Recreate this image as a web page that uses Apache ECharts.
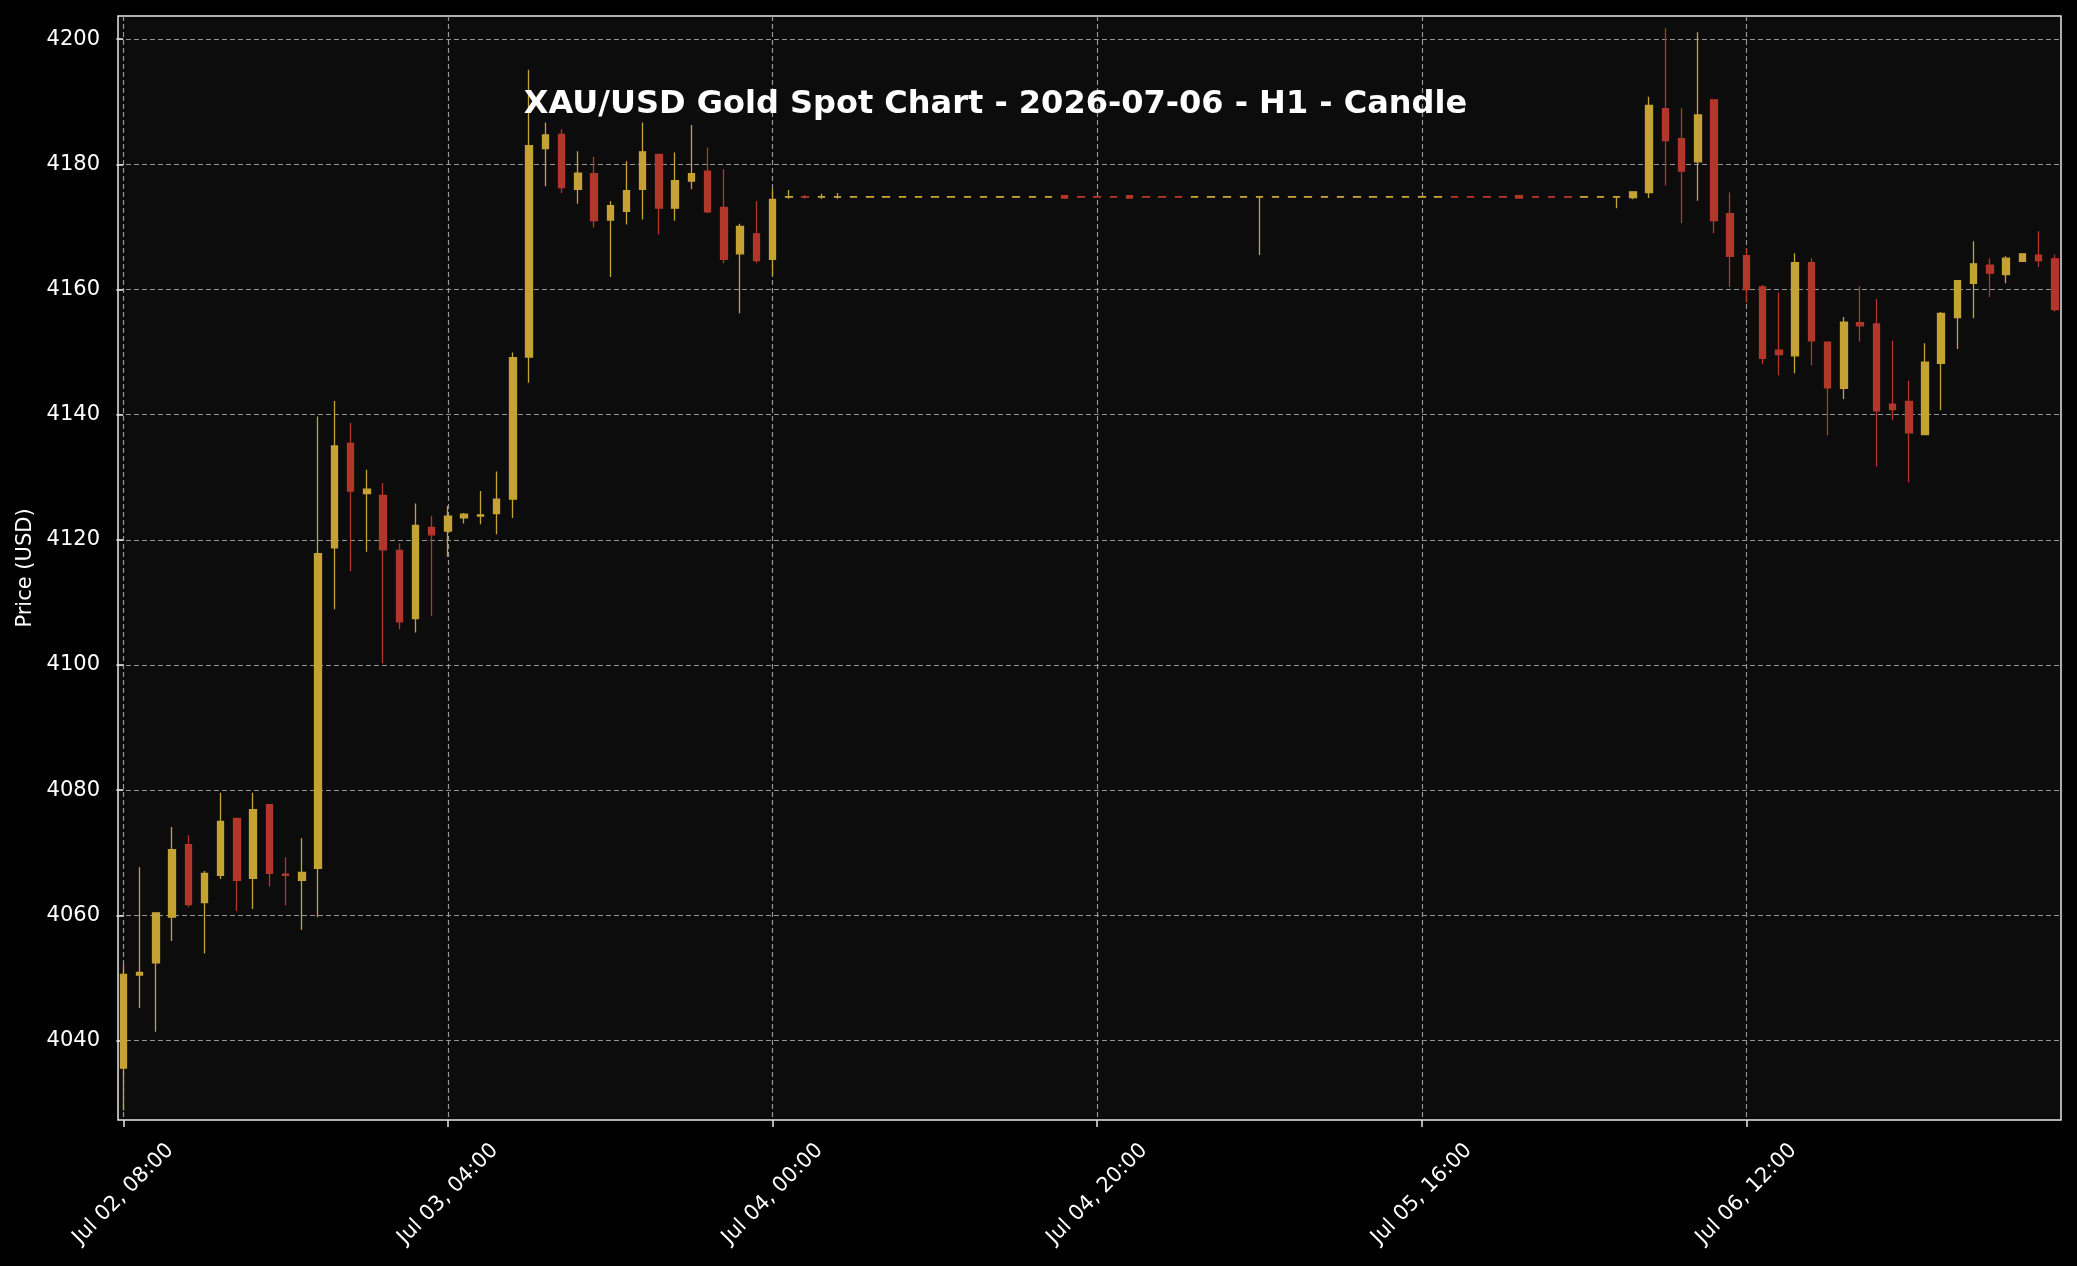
<!DOCTYPE html>
<html><head><meta charset="utf-8">
<script src="https://cdn.jsdelivr.net/npm/echarts@6/dist/echarts.min.js"></script>
<style>html,body{margin:0;padding:0;background:#000;}#c{width:2077px;height:1266px;}</style>
</head><body><div id="c"></div>
<script>
const chartTitle = 'XAU/USD Gold Spot Chart - 2026-07-06 - H1 - Candle';
const yAxisName = 'Price (USD)';
const xTickIdx = [0, 20, 40, 60, 80, 100];
const xTickLabels = ['Jul 02, 08:00', 'Jul 03, 04:00', 'Jul 04, 00:00', 'Jul 04, 20:00', 'Jul 05, 16:00', 'Jul 06, 12:00'];
const yTicks = [4040, 4060, 4080, 4100, 4120, 4140, 4160, 4180, 4200];

const opens = [
4035.6,4050.45,4052.4,4059.7,4071.3,4062.05,4066.4,4075.5,4065.9,4077.7,
4066.6,4065.6,4067.5,4118.7,4135.4,4127.4,4127.1,4118.3,4107.4,4122.0,
4121.4,4123.5,4123.8,4124.2,4126.5,4149.2,4182.5,4184.8,4176.0,4178.5,
4171.1,4172.5,4176.0,4181.6,4173.0,4177.3,4178.9,4173.1,4165.7,4168.9,
4164.8,4174.75,4174.85,4174.75,4174.75,4174.75,4174.75,4174.75,4174.75,4174.75,
4174.75,4174.75,4174.75,4174.75,4174.75,4174.75,4174.75,4174.75,4175.0,4174.85,
4174.85,4174.85,4175.0,4174.85,4174.85,4174.85,4174.75,4174.75,4174.75,4174.75,
4174.75,4174.75,4174.75,4174.75,4174.75,4174.75,4174.75,4174.75,4174.75,4174.75,
4174.75,4174.75,4174.85,4174.85,4174.85,4174.85,4175.0,4174.85,4174.85,4174.85,
4174.75,4174.75,4174.75,4174.7,4175.5,4188.9,4184.1,4180.4,4190.3,4172.1,
4165.4,4160.4,4150.3,4149.4,4164.3,4151.6,4144.2,4154.7,4154.5,4141.7,
4142.1,4136.8,4148.2,4155.5,4161.0,4163.9,4162.4,4164.5,4165.5,4164.9];

const closes = [
4050.55,4050.9,4060.4,4070.5,4061.7,4066.7,4075.0,4065.6,4076.9,4066.7,
4066.4,4066.85,4117.8,4135.0,4127.8,4128.1,4118.4,4106.9,4122.3,4120.8,
4123.8,4124.1,4124.0,4126.5,4149.1,4183.0,4184.7,4176.3,4178.6,4171.0,
4173.4,4175.8,4182.0,4173.0,4177.4,4178.5,4172.4,4164.8,4170.1,4164.6,
4174.4,4174.85,4174.75,4174.85,4174.85,4174.85,4174.85,4174.85,4174.85,4174.85,
4174.85,4174.85,4174.85,4174.85,4174.85,4174.85,4174.85,4174.85,4174.6,4174.75,
4174.75,4174.75,4174.6,4174.75,4174.75,4174.75,4174.85,4174.85,4174.85,4174.85,
4174.85,4174.85,4174.85,4174.85,4174.85,4174.85,4174.85,4174.85,4174.85,4174.85,
4174.85,4174.85,4174.75,4174.75,4174.75,4174.75,4174.6,4174.75,4174.75,4174.75,
4174.85,4174.85,4174.85,4175.6,4189.4,4183.8,4178.9,4187.9,4171.0,4165.3,
4160.0,4149.0,4149.6,4164.3,4151.8,4144.3,4154.8,4154.2,4140.6,4140.8,
4137.1,4148.4,4156.2,4161.4,4164.1,4162.6,4165.0,4165.7,4164.6,4156.8];

const highs = [
4052.2,4067.7,4060.5,4074.1,4072.8,4067.1,4079.6,4075.5,4079.6,4077.7,
4069.3,4072.3,4139.7,4142.2,4138.7,4131.2,4129.1,4119.4,4125.8,4123.8,
4125.4,4124.3,4127.8,4130.9,4149.95,4195.1,4186.7,4185.6,4182.1,4181.2,
4174.1,4180.5,4186.7,4181.6,4181.9,4186.3,4182.7,4179.2,4170.5,4174.1,
4176.1,4175.9,4175.1,4175.3,4175.4,4174.95,4174.95,4174.95,4174.95,4174.95,
4174.95,4174.95,4174.95,4174.95,4174.95,4174.95,4174.95,4174.95,4175.05,4174.95,
4174.95,4174.95,4175.05,4174.95,4174.95,4174.95,4174.95,4174.95,4174.95,4174.95,
4174.95,4174.95,4174.95,4174.95,4174.95,4174.95,4174.95,4174.95,4174.95,4174.95,
4174.95,4174.95,4174.95,4174.95,4174.95,4174.95,4175.05,4174.95,4174.95,4174.95,
4174.95,4174.95,4174.95,4175.7,4190.8,4201.8,4189.0,4201.1,4190.3,4175.5,
4166.6,4160.7,4159.5,4165.8,4165.0,4151.6,4155.6,4160.5,4158.5,4151.8,
4145.4,4151.4,4156.4,4161.5,4167.7,4165.0,4165.3,4165.8,4169.3,4165.6];

const lows = [
4028.8,4045.2,4041.4,4055.9,4061.3,4053.9,4065.8,4060.7,4061.0,4064.6,
4061.6,4057.7,4059.7,4108.9,4115.0,4118.1,4100.3,4105.7,4105.2,4107.8,
4117.3,4122.6,4122.5,4120.9,4123.5,4145.1,4176.5,4175.4,4173.7,4169.9,
4162.0,4170.4,4171.2,4168.8,4171.0,4176.0,4172.2,4164.2,4156.2,4164.2,
4162.2,4174.5,4174.5,4174.5,4174.5,4174.65,4174.65,4174.65,4174.65,4174.65,
4174.65,4174.65,4174.65,4174.65,4174.65,4174.65,4174.65,4174.65,4174.55,4174.65,
4174.65,4174.65,4174.55,4174.65,4174.65,4174.65,4174.65,4174.65,4174.65,4174.65,
4165.5,4174.65,4174.65,4174.65,4174.65,4174.65,4174.65,4174.65,4174.65,4174.65,
4174.65,4174.65,4174.65,4174.65,4174.65,4174.65,4174.55,4174.65,4174.65,4174.65,
4174.65,4174.65,4173.0,4174.4,4174.6,4176.6,4170.6,4174.2,4169.0,4160.4,
4157.9,4148.1,4146.3,4146.6,4147.9,4136.7,4142.5,4151.7,4131.7,4139.1,
4129.2,4136.8,4140.7,4150.5,4155.4,4158.8,4161.0,4164.4,4163.6,4156.5];

const upColor = '#c4a234';
const downColor = '#b2372b';
const fontFam = '"DejaVu Sans", sans-serif';

const candleData = opens.map((o, i) => [i, o, closes[i], lows[i], highs[i]]);

const chart = echarts.init(document.getElementById('c'), null, {renderer: 'canvas'});
chart.setOption({
  backgroundColor: '#000000',
  animation: false,
  grid: {left: 118, right: 16, top: 16, bottom: 146, show: true,
         backgroundColor: '#0c0c0c', borderColor: '#e6e6e6', borderWidth: 1.5},
  xAxis: {
    type: 'value', min: -0.33, max: 119.38,
    axisLine: {show: false},
    axisTick: {show: true, length: 7, customValues: xTickIdx, lineStyle: {color: '#e6e6e6', width: 1.5}},
    axisLabel: {customValues: xTickIdx, rotate: 45, align: 'center', verticalAlign: 'middle', margin: 74,
      color: '#ffffff', fontSize: 21, fontFamily: fontFam,
      formatter: v => { const k = xTickIdx.indexOf(Math.round(v)); return k >= 0 ? xTickLabels[k] : ''; }},
    splitLine: {show: true, lineStyle: {color: '#949494', width: 1.2, type: [5, 3]}}
  },
  yAxis: {
    type: 'value', min: 4027.3, max: 4203.7,
    name: yAxisName, nameLocation: 'middle', nameGap: 76,
    nameTextStyle: {color: '#ffffff', fontSize: 21, fontFamily: fontFam},
    axisLine: {show: false},
    axisTick: {show: true, length: 7, customValues: yTicks, lineStyle: {color: '#e6e6e6', width: 1.5}},
    axisLabel: {customValues: yTicks, margin: 18, color: '#ffffff', fontSize: 21, fontFamily: fontFam,
      formatter: v => String(Math.round(v))},
    splitLine: {show: true, lineStyle: {color: '#949494', width: 1.2, type: [5, 3]}}
  },
  graphic: [{
    type: 'text', x: 995.5, y: 104.5, z: 100,
    style: {text: chartTitle, fill: '#ffffff', fontSize: 32, fontWeight: 'bold', fontFamily: fontFam,
            align: 'center', verticalAlign: 'middle'}
  }],
  series: [{
    type: 'candlestick',
    dimensions: ['idx', 'open', 'close', 'lowest', 'highest'],
    encode: {x: 'idx', y: ['open', 'close', 'lowest', 'highest']},
    data: candleData,
    barWidth: 7,
    itemStyle: {color: upColor, color0: downColor, borderColor: upColor, borderColor0: downColor,
                borderColorDoji: upColor, borderWidth: 1.3}
  }]
});
</script></body></html>
